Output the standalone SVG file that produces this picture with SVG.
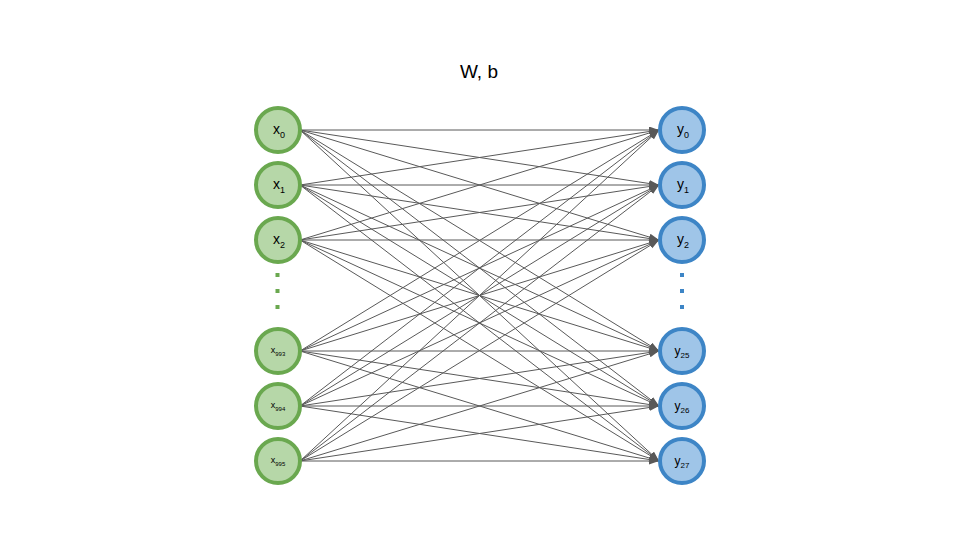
<svg xmlns="http://www.w3.org/2000/svg" width="960" height="540" viewBox="0 0 960 540">
<defs>
<marker id="arr" markerUnits="userSpaceOnUse" markerWidth="11" markerHeight="8" refX="10" refY="3.5" orient="auto">
<path d="M0,0 L10,3.5 L0,7 z" fill="#595959"/>
</marker>
<style>
.edge{stroke:#595959;stroke-width:1;fill:none;marker-end:url(#arr)}
.in{fill:#b6d7a8;stroke:#6aa84f;stroke-width:4}
.out{fill:#9fc5e8;stroke:#3d85c6;stroke-width:4}
.lbl{font-family:"Liberation Sans",Arial,sans-serif;fill:#000}
.big{font-size:14px}
.sm{font-size:9px}
.sub{font-size:9px}
.ssub{font-size:6px}
</style>
</defs>
<rect width="960" height="540" fill="#fff"/>
<text class="lbl" x="479" y="78" font-size="19" text-anchor="middle">W, b</text>
<g id="connectors">
<line class="edge" x1="300" y1="130" x2="659" y2="130"/><line class="edge" x1="300" y1="130" x2="659" y2="185"/><line class="edge" x1="300" y1="130" x2="659" y2="240"/><line class="edge" x1="300" y1="130" x2="659" y2="351"/><line class="edge" x1="300" y1="130" x2="659" y2="406"/><line class="edge" x1="300" y1="130" x2="659" y2="461"/>
<line class="edge" x1="300" y1="185" x2="659" y2="130"/><line class="edge" x1="300" y1="185" x2="659" y2="185"/><line class="edge" x1="300" y1="185" x2="659" y2="240"/><line class="edge" x1="300" y1="185" x2="659" y2="351"/><line class="edge" x1="300" y1="185" x2="659" y2="406"/><line class="edge" x1="300" y1="185" x2="659" y2="461"/>
<line class="edge" x1="300" y1="240" x2="659" y2="130"/><line class="edge" x1="300" y1="240" x2="659" y2="185"/><line class="edge" x1="300" y1="240" x2="659" y2="240"/><line class="edge" x1="300" y1="240" x2="659" y2="351"/><line class="edge" x1="300" y1="240" x2="659" y2="406"/><line class="edge" x1="300" y1="240" x2="659" y2="461"/>
<line class="edge" x1="300" y1="351" x2="659" y2="130"/><line class="edge" x1="300" y1="351" x2="659" y2="185"/><line class="edge" x1="300" y1="351" x2="659" y2="240"/><line class="edge" x1="300" y1="351" x2="659" y2="351"/><line class="edge" x1="300" y1="351" x2="659" y2="406"/><line class="edge" x1="300" y1="351" x2="659" y2="461"/>
<line class="edge" x1="300" y1="406" x2="659" y2="130"/><line class="edge" x1="300" y1="406" x2="659" y2="185"/><line class="edge" x1="300" y1="406" x2="659" y2="240"/><line class="edge" x1="300" y1="406" x2="659" y2="351"/><line class="edge" x1="300" y1="406" x2="659" y2="406"/><line class="edge" x1="300" y1="406" x2="659" y2="461"/>
<line class="edge" x1="300" y1="461" x2="659" y2="130"/><line class="edge" x1="300" y1="461" x2="659" y2="185"/><line class="edge" x1="300" y1="461" x2="659" y2="240"/><line class="edge" x1="300" y1="461" x2="659" y2="351"/><line class="edge" x1="300" y1="461" x2="659" y2="406"/><line class="edge" x1="300" y1="461" x2="659" y2="461"/>
</g>
<g id="x0"><circle class="in" cx="278" cy="130" r="22"/><text class="lbl big" x="279" y="134" text-anchor="middle">x<tspan class="sub" dy="4">0</tspan></text></g>
<g id="x1"><circle class="in" cx="278" cy="185" r="22"/><text class="lbl big" x="279" y="189" text-anchor="middle">x<tspan class="sub" dy="4">1</tspan></text></g>
<g id="x2"><circle class="in" cx="278" cy="240" r="22"/><text class="lbl big" x="279" y="244" text-anchor="middle">x<tspan class="sub" dy="4">2</tspan></text></g>
<g id="x993"><circle class="in" cx="278" cy="351" r="22"/><text class="lbl sm" x="278" y="353" text-anchor="middle">x<tspan class="ssub" dy="3">993</tspan></text></g>
<g id="x994"><circle class="in" cx="278" cy="406" r="22"/><text class="lbl sm" x="278" y="408" text-anchor="middle">x<tspan class="ssub" dy="3">994</tspan></text></g>
<g id="x995"><circle class="in" cx="278" cy="461" r="22"/><text class="lbl sm" x="278" y="463" text-anchor="middle">x<tspan class="ssub" dy="3">995</tspan></text></g>
<g id="xdots" fill="#6aa84f"><rect x="275.5" y="273" width="4" height="4"/><rect x="275.5" y="289" width="4" height="4"/><rect x="275.5" y="305" width="4" height="4"/></g>
<g id="y0"><circle class="out" cx="682" cy="130" r="22"/><text class="lbl big" x="683" y="134" text-anchor="middle">y<tspan class="sub" dy="4">0</tspan></text></g>
<g id="y1"><circle class="out" cx="682" cy="185" r="22"/><text class="lbl big" x="683" y="189" text-anchor="middle">y<tspan class="sub" dy="4">1</tspan></text></g>
<g id="y2"><circle class="out" cx="682" cy="240" r="22"/><text class="lbl big" x="683" y="244" text-anchor="middle">y<tspan class="sub" dy="4">2</tspan></text></g>
<g id="y25"><circle class="out" cx="682" cy="351" r="22"/><text class="lbl" x="682" y="355" font-size="12" text-anchor="middle">y<tspan font-size="8" dy="3">25</tspan></text></g>
<g id="y26"><circle class="out" cx="682" cy="406" r="22"/><text class="lbl" x="682" y="410" font-size="12" text-anchor="middle">y<tspan font-size="8" dy="3">26</tspan></text></g>
<g id="y27"><circle class="out" cx="682" cy="461" r="22"/><text class="lbl" x="682" y="465" font-size="12" text-anchor="middle">y<tspan font-size="8" dy="3">27</tspan></text></g>
<g id="ydots" fill="#3d85c6"><rect x="680" y="273" width="4" height="4"/><rect x="680" y="289" width="4" height="4"/><rect x="680" y="305" width="4" height="4"/></g>
</svg>
